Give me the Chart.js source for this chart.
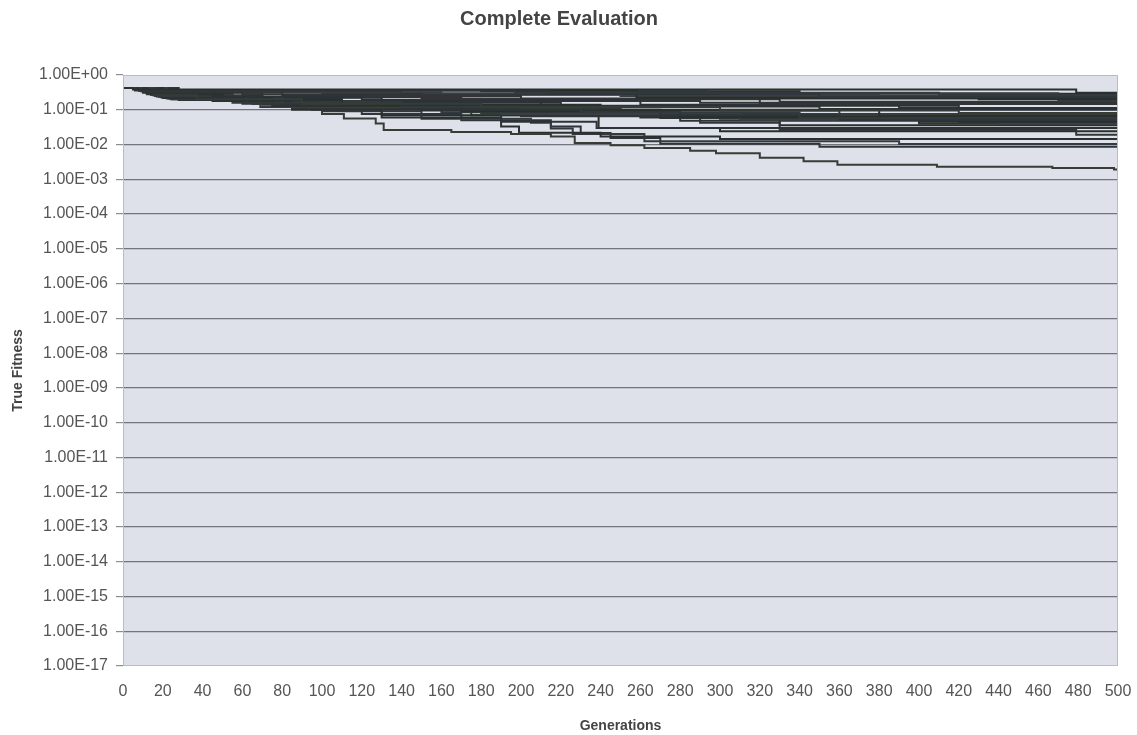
<!DOCTYPE html>
<html>
<head>
<meta charset="utf-8">
<script src="https://cdn.jsdelivr.net/npm/chart.js@4/dist/chart.umd.min.js"></script>
<style>
  html, body { margin: 0; padding: 0; background: #ffffff; }
  #c { display: block; }
</style>
</head>
<body>
<canvas id="c" width="1137" height="735"></canvas>
<script>
// ---- Data (generation, true fitness) ----
const run01 = [[0,0.42],[5,0.38],[479,0.31],[500,0.31]];
const run02 = [[0,0.42],[6,0.37],[197,0.31],[410,0.27],[500,0.27]];
const run03 = [[0,0.42],[8,0.36],[213,0.29],[350,0.23],[500,0.23]];
const run04 = [[0,0.42],[7,0.37],[258,0.22],[430,0.20],[500,0.20]];
const run05 = [[0,0.42],[9,0.36],[294,0.30],[470,0.185],[500,0.185]];
const run06 = [[0,0.42],[10,0.33],[60,0.28],[150,0.21],[320,0.147],[500,0.147]];
const run07 = [[0,0.42],[12,0.30],[45,0.24],[120,0.19],[260,0.14],[390,0.113],[500,0.113]];
const run08 = [[0,0.42],[15,0.27],[37,0.20],[90,0.15],[180,0.12],[300,0.095],[420,0.081],[500,0.081]];
const run09 = [[0,0.42],[14,0.28],[50,0.19],[110,0.14],[240,0.10],[380,0.066],[500,0.066]];
const run10 = [[0,0.42],[16,0.25],[62,0.16],[140,0.12],[230,0.085],[340,0.058],[500,0.058]];
const run11 = [[0,0.42],[18,0.24],[70,0.14],[160,0.10],[270,0.070],[360,0.051],[500,0.051]];
const run12 = [[0,0.42],[20,0.22],[75,0.13],[170,0.090],[280,0.062],[400,0.045],[500,0.045]];
const run13 = [[0,0.42],[22,0.21],[80,0.12],[190,0.075],[310,0.052],[440,0.039],[500,0.039]];
const run14 = [[0,0.42],[25,0.20],[85,0.11],[200,0.065],[290,0.042],[330,0.026],[479,0.019],[500,0.019]];
const run15 = [[0,0.42],[28,0.19],[95,0.10],[190,0.045],[238,0.030],[500,0.030]];
const run16 = [[0,0.42],[12,0.28],[37,0.19],[69,0.12],[100,0.075],[111,0.056],[127,0.040],[131,0.026],[165,0.023],[195,0.020],[215,0.017],[227,0.011],[245,0.0095],[262,0.008],[285,0.0066],[298,0.0056],[320,0.0042],[342,0.0033],[359,0.0026],[409,0.0023],[467,0.0021],[498,0.0019],[500,0.0019]];
const run17 = [[0,0.42],[14,0.27],[45,0.18],[85,0.10],[130,0.060],[190,0.033],[199,0.022],[240,0.017],[300,0.0145],[500,0.0145]];
const run18 = [[0,0.42],[16,0.26],[55,0.16],[100,0.090],[150,0.055],[205,0.042],[215,0.029],[226,0.020],[262,0.0125],[390,0.0104],[500,0.0104]];
const run19 = [[0,0.42],[18,0.24],[60,0.15],[120,0.075],[170,0.050],[215,0.033],[230,0.0215],[245,0.0155],[270,0.0105],[350,0.0086],[500,0.0086]];
const run20 = [[0,0.42],[20,0.23],[65,0.15],[130,0.070],[239,0.030],[300,0.024],[500,0.020]];
const run21 = [[0,0.42],[8,0.35],[100,0.30],[250,0.25],[500,0.25]];
const run22 = [[0,0.42],[11,0.32],[80,0.25],[200,0.20],[330,0.17],[500,0.17]];
const run23 = [[0,0.42],[13,0.29],[55,0.22],[130,0.16],[220,0.13],[420,0.10],[500,0.10]];
const run24 = [[0,0.42],[17,0.25],[70,0.17],[140,0.11],[250,0.075],[500,0.075]];
const run25 = [[0,0.42],[19,0.23],[78,0.14],[150,0.095],[260,0.060],[450,0.048],[500,0.048]];
const run26 = [[0,0.42],[21,0.22],[85,0.13],[180,0.080],[300,0.055],[420,0.042],[500,0.042]];
const run27 = [[0,0.42],[9,0.34],[140,0.27],[300,0.21],[500,0.21]];
const run28 = [[0,0.42],[24,0.20],[90,0.12],[210,0.070],[330,0.036],[500,0.036]];
const run29 = [[0,0.42],[6,0.36],[40,0.32],[160,0.28],[380,0.24],[500,0.24]];
const run30 = [[0,0.42],[10,0.31],[70,0.23],[170,0.18],[290,0.16],[500,0.16]];
const run31 = [[0,0.42],[12,0.29],[50,0.21],[110,0.17],[210,0.125],[350,0.105],[500,0.105]];
const run32 = [[0,0.42],[15,0.26],[60,0.18],[130,0.13],[230,0.095],[360,0.070],[500,0.070]];
const run33 = [[0,0.42],[17,0.24],[65,0.16],[135,0.105],[250,0.070],[380,0.055],[500,0.055]];
const run34 = [[0,0.42],[20,0.22],[80,0.14],[160,0.085],[270,0.058],[480,0.047],[500,0.047]];
const run35 = [[0,0.42],[23,0.21],[90,0.125],[175,0.070],[280,0.048],[400,0.040],[500,0.040]];
const run36 = [[0,0.42],[7,0.37],[180,0.34],[340,0.29],[500,0.29]];

const runs = [run01,run02,run03,run04,run05,run06,run07,run08,run09,run10,run11,run12,run13,run14,
              run15,run16,run17,run18,run19,run20,run21,run22,run23,run24,run25,run26,run27,run28,
              run29,run30,run31,run32,run33,run34,run35,run36];

// Axis ticks
const yTickExponents = [0,-1,-2,-3,-4,-5,-6,-7,-8,-9,-10,-11,-12,-13,-14,-15,-16,-17];
const yTickLabels = ['1.00E+00','1.00E-01','1.00E-02','1.00E-03','1.00E-04','1.00E-05','1.00E-06',
  '1.00E-07','1.00E-08','1.00E-09','1.00E-10','1.00E-11','1.00E-12','1.00E-13','1.00E-14',
  '1.00E-15','1.00E-16','1.00E-17'];
const xTickValues = [0,20,40,60,80,100,120,140,160,180,200,220,240,260,280,300,320,340,360,380,400,420,440,460,480,500];

// ---- Styles ----
const lineColors = ['#2a302d','#333a3f','#2e3439','#283029','#3a3f44','#323436','#2b3338','#373c37'];

const plotBg = {
  id: 'plotBg',
  beforeDraw(chart) {
    const {ctx, chartArea: a} = chart;
    ctx.save();
    ctx.fillStyle = '#dee1e9';
    ctx.fillRect(a.left, a.top, a.right - a.left, a.bottom - a.top);
    ctx.restore();
  },
  afterDatasetsDraw(chart) {
    const {ctx, chartArea: a} = chart;
    ctx.save();
    ctx.strokeStyle = '#b9bcc3';
    ctx.lineWidth = 1;
    ctx.strokeRect(a.left + 0.5, a.top + 0.5, a.right - a.left - 1, a.bottom - a.top - 1);
    ctx.restore();
  }
};

const datasets = runs.map((r, i) => ({
  data: r,
  borderColor: lineColors[i % lineColors.length],
  borderWidth: 2,
  pointRadius: 0,
  fill: false,
  stepped: true,
  tension: 0
}));

new Chart(document.getElementById('c'), {
  type: 'line',
  data: { datasets },
  plugins: [plotBg],
  options: {
    responsive: false,
    animation: false,
    devicePixelRatio: 1,
    layout: { padding: { left: 0, right: 19, top: 0, bottom: 0 } },
    plugins: {
      legend: { display: false },
      tooltip: { enabled: false },
      title: {
        display: true,
        text: 'Complete Evaluation',
        color: '#444444',
        font: { family: 'Liberation Sans, Arial, sans-serif', size: 20, weight: 'bold' },
        padding: { top: 7, bottom: 44 }
      }
    },
    scales: {
      x: {
        type: 'linear',
        min: 0, max: 500,
        afterBuildTicks: s => { s.ticks = xTickValues.map(v => ({ value: v })); },
        afterFit: s => { s.height = 69; s.paddingLeft = 0; s.paddingRight = 0; },
        grid: { display: false, drawTicks: false },
        border: { display: false },
        ticks: {
          color: '#555555',
          padding: 16,
          maxRotation: 0,
          autoSkip: false,
          font: { family: 'Liberation Sans, Arial, sans-serif', size: 16 }
        },
        title: {
          display: true,
          text: 'Generations',
          color: '#444444',
          padding: { top: 0, bottom: 0 },
          font: { family: 'Liberation Sans, Arial, sans-serif', size: 14, weight: 'bold' }
        }
      },
      y: {
        type: 'logarithmic',
        min: 1e-17, max: 1,
        afterBuildTicks: s => { s.ticks = yTickExponents.map(e => ({ value: Math.pow(10, e) })); },
        afterFit: s => { s.width = 123; },
        grid: {
          color: c => (c.index === 0 || c.index === yTickExponents.length - 1) ? 'rgba(0,0,0,0)' : '#72767b',
          tickColor: '#8a8d92',
          lineWidth: 1.2,
          drawTicks: true,
          tickLength: 7
        },
        border: { display: false },
        ticks: {
          color: '#555555',
          padding: 8,
          autoSkip: false,
          font: { family: 'Liberation Sans, Arial, sans-serif', size: 16 },
          callback: (v, i) => yTickLabels[i]
        },
        title: {
          display: true,
          text: 'True Fitness',
          color: '#444444',
          padding: { top: 10, bottom: 0 },
          font: { family: 'Liberation Sans, Arial, sans-serif', size: 14, weight: 'bold' }
        }
      }
    }
  }
});
</script>
</body>
</html>
